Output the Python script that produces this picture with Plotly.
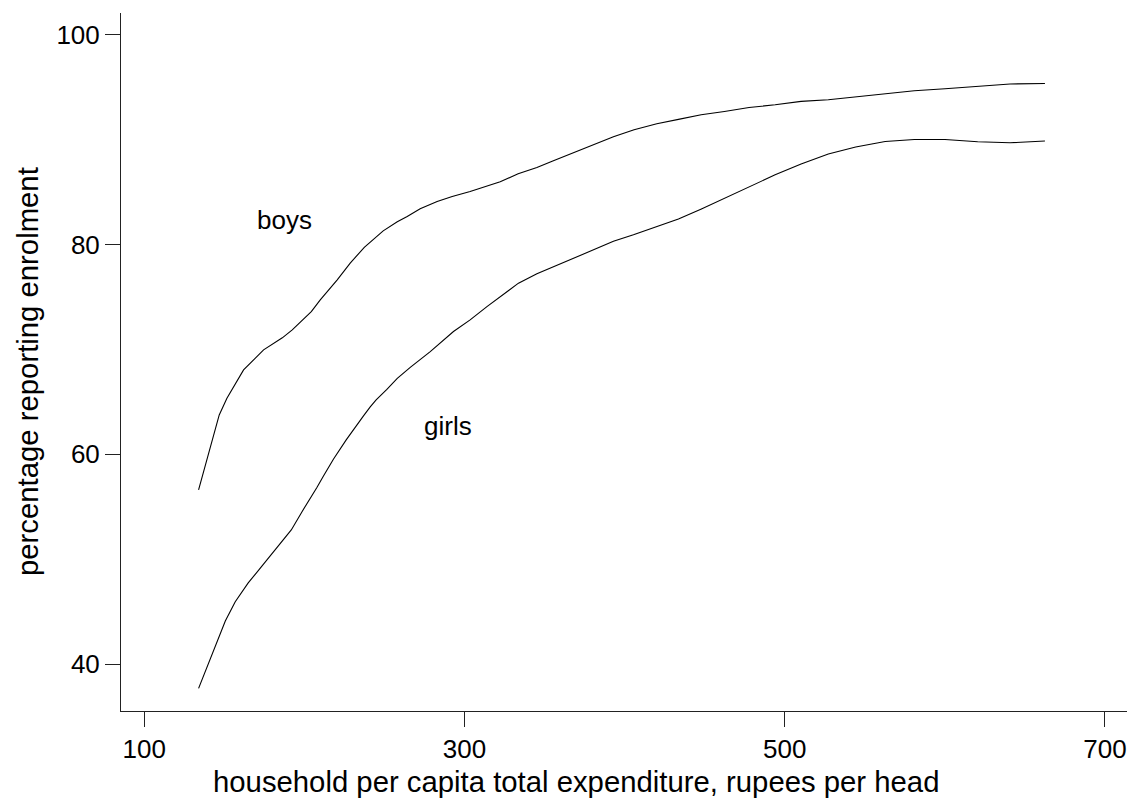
import plotly.graph_objects as go

# household per capita total expenditure (rupees per head) vs % reporting enrolment
boys_x = [133.9, 143.3, 146.8, 151.6, 155.8, 162.0, 174.5, 180.7, 186.2, 192.4,
          198.6, 204.3, 209.9, 220.5, 228.6, 237.4, 249.2, 258.0, 264.2, 272.3,
          282.9, 292.3, 303.5, 311.0, 322.3, 333.5, 345.2, 355.5, 368.0, 380.5,
          393.0, 405.9, 420.1, 433.6, 447.8, 462.3, 477.7, 494.0, 510.2, 527.2,
          544.3, 562.7, 580.9, 600.1, 620.5, 640.7, 662.5]
boys_y = [56.60, 61.68, 63.75, 65.34, 66.45, 68.04, 69.95, 70.52, 71.10, 71.86,
          72.72, 73.60, 74.72, 76.63, 78.22, 79.73, 81.30, 82.16, 82.67, 83.40,
          84.10, 84.58, 85.05, 85.45, 85.98, 86.74, 87.34, 87.98, 88.74, 89.51,
          90.27, 90.94, 91.51, 91.93, 92.37, 92.68, 93.06, 93.32, 93.64, 93.80,
          94.09, 94.37, 94.66, 94.85, 95.07, 95.30, 95.35]

girls_x = [133.9, 139.1, 146.4, 150.6, 156.8, 164.9, 173.7, 184.9, 191.8, 198.6,
           203.6, 207.8, 211.9, 218.2, 226.1, 232.8, 236.9, 241.1, 244.8, 251.5,
           258.0, 266.1, 272.3, 278.6, 293.1, 303.5, 314.0, 322.3, 333.7, 345.2,
           355.4, 368.0, 380.5, 393.0, 405.5, 420.1, 433.6, 447.6, 462.3, 477.7,
           494.0, 510.2, 527.2, 544.3, 562.7, 580.9, 600.1, 620.5, 640.7, 662.5]
girls_y = [37.68, 39.74, 42.60, 44.10, 45.94, 47.73, 49.39, 51.51, 52.78, 54.55,
           55.74, 56.83, 57.93, 59.55, 61.37, 62.84, 63.66, 64.51, 65.18, 66.18,
           67.23, 68.28, 69.05, 69.79, 71.70, 72.81, 74.08, 75.04, 76.31, 77.20,
           77.87, 78.70, 79.49, 80.30, 80.92, 81.68, 82.43, 83.37, 84.42, 85.53,
           86.64, 87.67, 88.62, 89.29, 89.82, 90.01, 90.01, 89.79, 89.70, 89.86]

x_ticks = [100, 300, 500, 700]
y_ticks = [40, 60, 80, 100]

labels = ["boys", "girls"]
label_x = [187.7, 289.5]
label_y = [82.3, 62.7]

x_title = "household per capita total expenditure, rupees per head"
y_title = "percentage reporting enrolment"

FONT = "Liberation Sans, Arial, Helvetica, sans-serif"

fig = go.Figure()
fig.add_trace(go.Scatter(x=boys_x, y=boys_y, mode="lines", name="boys",
                         line=dict(color="black", width=1.1)))
fig.add_trace(go.Scatter(x=girls_x, y=girls_y, mode="lines", name="girls",
                         line=dict(color="black", width=1.1)))

for t, lx, ly in zip(labels, label_x, label_y):
    fig.add_annotation(x=lx, y=ly, text=t, showarrow=False,
                       font=dict(family=FONT, size=26, color="black"))

# axis titles
fig.add_annotation(xref="paper", yref="paper", x=0.4509, y=0, yshift=-70,
                   xanchor="center", yanchor="middle", text=x_title, showarrow=False,
                   font=dict(family=FONT, size=29.3, color="black"))
fig.add_annotation(xref="paper", yref="paper", x=0, xshift=-93, y=0.4857,
                   xanchor="center", yanchor="middle", textangle=-90, text=y_title,
                   showarrow=False, font=dict(family=FONT, size=29.3, color="black"))

axis_common = dict(showline=True, linecolor="#222", linewidth=1,
                   ticks="outside", ticklen=15, tickwidth=1, tickcolor="#222",
                   showgrid=False, zeroline=False, mirror=False, automargin=False,
                   tickfont=dict(family=FONT, size=26, color="black"))

fig.update_xaxes(range=[85.45, 715], tickvals=x_ticks, **axis_common)
fig.update_yaxes(range=[35.52, 102.07], tickvals=y_ticks, **axis_common)

fig.update_layout(width=1127, height=794, showlegend=False,
                  plot_bgcolor="white", paper_bgcolor="white",
                  margin=dict(l=113, r=6, t=5, b=91, autoexpand=False),
                  font=dict(family=FONT))

fig.write_html("out.html")
